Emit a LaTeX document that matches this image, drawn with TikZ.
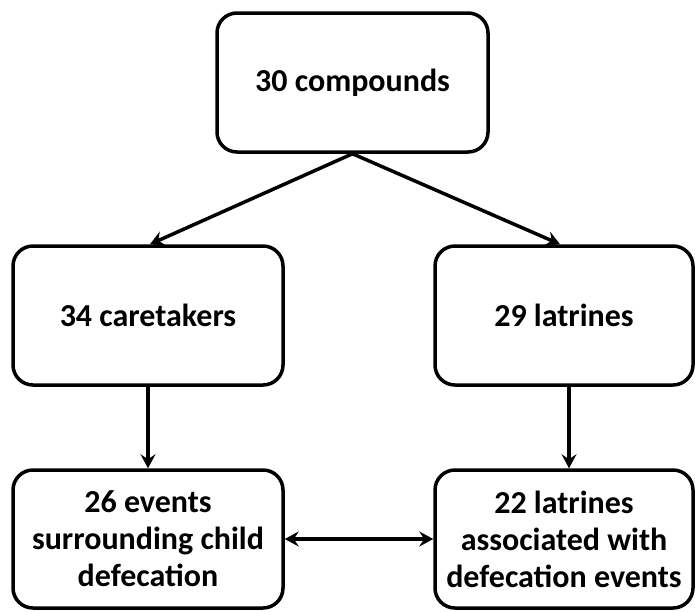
\documentclass[tikz,border=0pt]{standalone}
\usepackage{fontspec}
\setmainfont{Carlito}
\usetikzlibrary{arrows.meta}
\begin{document}
\begin{tikzpicture}[x=1pt,y=-1pt,
  box/.style={draw=black, line width=3.5pt, rounded corners=20pt, fill=white,
    align=center, inner sep=0pt,
    font=\fontsize{32}{37}\selectfont\bfseries},
  arr/.style={line width=3.5pt, -{Stealth[length=14pt,width=15pt,inset=5pt]}},
  darr/.style={line width=3.5pt, {Stealth[length=14pt,width=15pt,inset=5pt]}-{Stealth[length=14pt,width=15pt,inset=5pt]}}]
\useasboundingbox (0,0) rectangle (695,611);
\node[box, minimum width=271pt, minimum height=139pt] (top) at (352.5,82.5) {30 compounds};
\node[box, minimum width=270pt, minimum height=139pt] (lm) at (148,315.5) {34 caretakers};
\node[box, minimum width=258pt, minimum height=139pt] (rm) at (564,315.5) {29 latrines};
\node[box, minimum width=270pt, minimum height=138pt] (lb) at (148,539) {26 events\\surrounding child\\defecation};
\node[box, minimum width=258pt, minimum height=138pt] (rb) at (564,539) {22 latrines\\associated with\\defecation events};
\draw[arr] (top.south) -- ([xshift=2pt]lm.north);
\draw[arr] (top.south) -- ([xshift=-4pt]rm.north);
\draw[arr] (lm.south) -- (lb.north);
\draw[arr] ([xshift=5pt]rm.south) -- ([xshift=5pt]rb.north);
\draw[darr] (lb.east) -- (rb.west);
\end{tikzpicture}
\end{document}
